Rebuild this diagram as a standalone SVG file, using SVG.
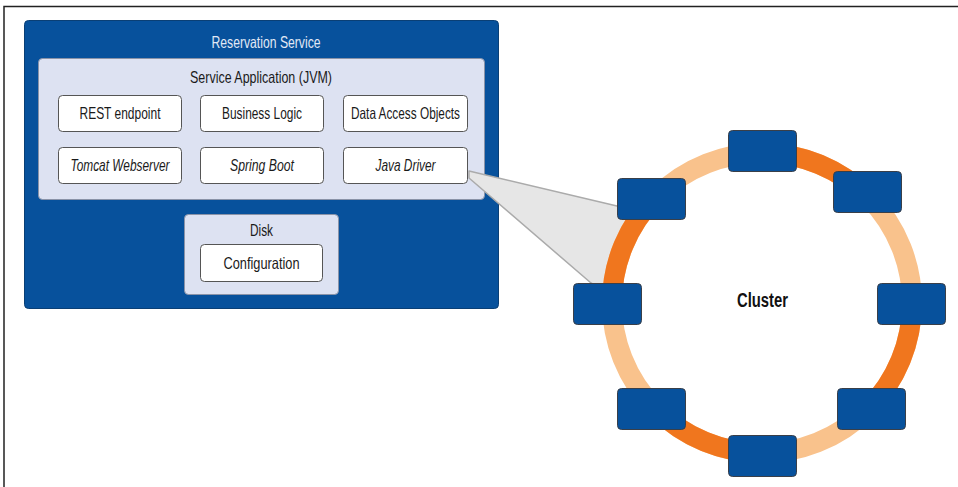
<svg xmlns="http://www.w3.org/2000/svg" width="958" height="487" viewBox="0 0 958 487">
<style>
  .t{font-family:"Liberation Sans",Arial,sans-serif;font-size:16.5px;fill:#1a1a1a;text-anchor:middle}
  .i{font-style:italic}
  .box{fill:#ffffff;stroke:#555555;stroke-width:1}
  .pale{fill:#dde2f2;stroke:#8a93a8;stroke-width:1}
  .node{fill:#07519c;stroke:#3a3f48;stroke-width:1}
</style>
<rect width="958" height="487" fill="#ffffff"/>
<path d="M4,487 V6.5 H958" fill="none" stroke="#222" stroke-width="1.5"/>

<g id="reservation-service">
  <rect x="24.5" y="20.5" width="474" height="288" rx="4" fill="#07519c" stroke="#0a3f75" stroke-width="1"/>
  <text class="t" x="266" y="47.5" style="fill:#e2e9f6" textLength="109" lengthAdjust="spacingAndGlyphs">Reservation Service</text>
</g>

<g id="service-application">
  <rect class="pale" x="38.5" y="58.5" width="446" height="141" rx="4"/>
  <text class="t" x="261" y="82.5" textLength="142" lengthAdjust="spacingAndGlyphs">Service Application (JVM)</text>
</g>

<g id="rest-endpoint">
  <rect class="box" x="58.5" y="95.5" width="123" height="36" rx="4"/>
  <text class="t" x="120" y="118.5" textLength="81" lengthAdjust="spacingAndGlyphs">REST endpoint</text>
</g>
<g id="business-logic">
  <rect class="box" x="200.5" y="95.5" width="123" height="36" rx="4"/>
  <text class="t" x="262" y="118.5" textLength="80" lengthAdjust="spacingAndGlyphs">Business Logic</text>
</g>
<g id="data-access-objects">
  <rect class="box" x="343.5" y="95.5" width="124" height="36" rx="4"/>
  <text class="t" x="405.5" y="118.5" textLength="109" lengthAdjust="spacingAndGlyphs">Data Access Objects</text>
</g>
<g id="tomcat-webserver">
  <rect class="box" x="58.5" y="147.5" width="123" height="36" rx="4"/>
  <text class="t i" x="120" y="171" textLength="99" lengthAdjust="spacingAndGlyphs">Tomcat Webserver</text>
</g>
<g id="spring-boot">
  <rect class="box" x="200.5" y="147.5" width="123" height="36" rx="4"/>
  <text class="t i" x="262" y="171" textLength="64" lengthAdjust="spacingAndGlyphs">Spring Boot</text>
</g>

<g id="connectors">
  <polygon points="469,171 617,206 639,217 628.4,234.9 621,251.7 614.3,277 612,295 591,283 469,178" fill="#e6e6e6" stroke="#ababab" stroke-width="1.5" stroke-linejoin="round"/>
</g>

<g id="java-driver">
  <rect class="box" x="343.5" y="147.5" width="124" height="36" rx="4"/>
  <text class="t i" x="405.5" y="171" textLength="60" lengthAdjust="spacingAndGlyphs">Java Driver</text>
</g>

<g id="disk">
  <rect class="pale" x="184.5" y="214.5" width="154" height="80" rx="4"/>
  <text class="t" x="261.5" y="235.5" textLength="23" lengthAdjust="spacingAndGlyphs">Disk</text>
</g>
<g id="configuration">
  <rect class="box" x="200.5" y="244.5" width="122" height="37" rx="4"/>
  <text class="t" x="261.5" y="268.5" textLength="76" lengthAdjust="spacingAndGlyphs">Configuration</text>
</g>

<g id="cluster">
  <circle cx="762" cy="303" r="150" fill="none" stroke="#f9c28c" stroke-width="20"/>
  <circle cx="762" cy="303" r="150" fill="none" stroke="#f0761e" stroke-width="20" stroke-dasharray="117.81 117.81"/>
  <text x="762.5" y="306.5" style="font-family:'Liberation Sans',Arial,sans-serif;font-size:20px;font-weight:bold;fill:#111;text-anchor:middle" textLength="51" lengthAdjust="spacingAndGlyphs">Cluster</text>
</g>

<g id="node-top"><rect class="node" x="728.5" y="130.5" width="68" height="41" rx="4"/></g>
<g id="node-top-right"><rect class="node" x="833.5" y="171.5" width="68" height="41" rx="4"/></g>
<g id="node-right"><rect class="node" x="877.5" y="283.5" width="68" height="41" rx="4"/></g>
<g id="node-bottom-right"><rect class="node" x="837.5" y="388.5" width="68" height="41" rx="4"/></g>
<g id="node-bottom"><rect class="node" x="728.5" y="435.5" width="68" height="41" rx="4"/></g>
<g id="node-bottom-left"><rect class="node" x="617.5" y="388.5" width="68" height="41" rx="4"/></g>
<g id="node-left"><rect class="node" x="573.5" y="283.5" width="68" height="41" rx="4"/></g>
<g id="node-top-left"><rect class="node" x="617.5" y="178.5" width="68" height="41" rx="4"/></g>
</svg>
